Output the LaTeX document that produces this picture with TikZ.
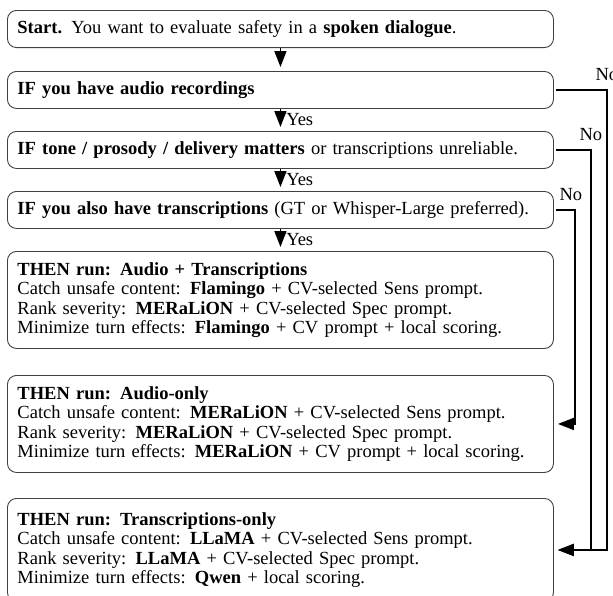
\documentclass[tikz,border=0pt]{standalone}
\usepackage{fontspec}
\setmainfont{Liberation Serif}
\usetikzlibrary{arrows.meta,positioning}
\tikzset{
  stepbox/.style={draw=black!75, line width=0.9pt, rounded corners=9pt,
    anchor=north west, text width=526pt, inner xsep=10pt, inner ysep=10pt,
    align=left, minimum height=37pt, font=\fontsize{18.5}{19.5}\selectfont},
  runbox/.style={stepbox, minimum height=97pt},
  flow/.style={line width=1.6pt, -{Triangle[length=16pt,width=12pt]}, shorten >=4pt},
  noflow/.style={flow, shorten <=2pt},
  yes/.style={right, xshift=5pt, inner sep=0pt, font=\fontsize{18.5}{19.5}\selectfont},
  no/.style={above, yshift=6pt, inner sep=3pt, font=\fontsize{18.5}{19.5}\selectfont}
}
\begin{document}
\begin{tikzpicture}[x=1pt,y=-1pt]
\useasboundingbox (0,0) rectangle (613,595);
% questions
\node (start) [stepbox] at (7,10) {\textbf{Start.} You want to evaluate safety in a \textbf{spoken dialogue}.};
\node (audio) [stepbox] at (7,71) {\textbf{IF you have audio recordings}};
\node (tone) [stepbox] at (7,131) {\textbf{IF tone / prosody / delivery matters} or transcriptions unreliable.};
\node (trans) [stepbox] at (7,191) {\textbf{IF you also have transcriptions} (GT or Whisper-Large preferred).};
% outcomes
\node (both) [runbox] at (7,251) {\textbf{THEN run: Audio + Transcriptions}\\
  Catch unsafe content: \textbf{Flamingo} + CV-selected $\mathrm{Sens}$ prompt.\\
  Rank severity: \textbf{MERaLiON} + CV-selected $\mathrm{Spec}$ prompt.\\
  Minimize turn effects: \textbf{Flamingo} + CV prompt + local scoring.};
\node (aonly) [runbox] at (7,375) {\textbf{THEN run: Audio-only}\\
  Catch unsafe content: \textbf{MERaLiON} + CV-selected $\mathrm{Sens}$ prompt.\\
  Rank severity: \textbf{MERaLiON} + CV-selected $\mathrm{Spec}$ prompt.\\
  Minimize turn effects: \textbf{MERaLiON} + CV prompt + local scoring.};
\node (tonly) [runbox, minimum height=103pt] at (7,498) {\textbf{THEN run: Transcriptions-only}\\
  Catch unsafe content: \textbf{LLaMA} + CV-selected $\mathrm{Sens}$ prompt.\\
  Rank severity: \textbf{LLaMA} + CV-selected $\mathrm{Spec}$ prompt.\\
  Minimize turn effects: \textbf{Qwen} + local scoring.};
%
\draw[flow] (start.south) -- (audio.north);
\draw[flow] (audio.south) -- node[yes] {Yes} (tone.north);
\draw[flow] (tone.south) -- node[yes] {Yes} (trans.north);
\draw[flow] (trans.south) -- node[yes] {Yes} (both.north);
% no branches
\draw[noflow] (audio.east) -- ++(53,0) coordinate (n1) |- (tonly.east);
\draw[noflow] (tone.east) -- ++(37,0) coordinate (n2) |- (tonly.east);
\draw[noflow] (trans.east) -- ++(21,0) coordinate (n3) |- (aonly.east);
\node[no] at (n1) {No};
\node[no] at (n2) {No};
\node[no, xshift=-4pt] at (n3) {No};
\end{tikzpicture}
\end{document}
